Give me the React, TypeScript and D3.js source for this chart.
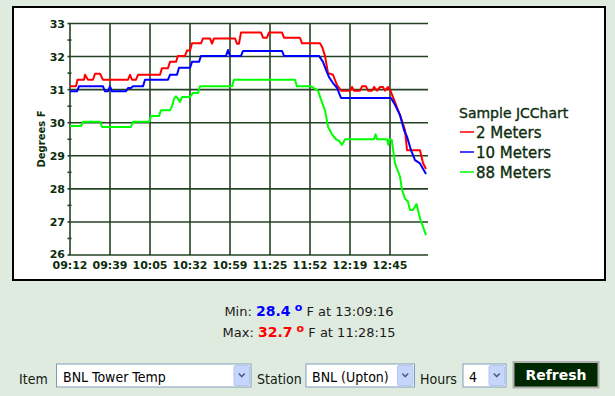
import React from "react";
import * as d3 from "d3";

// ---- data ----
const xTickLabels = ["09:12", "09:39", "10:05", "10:32", "10:59", "11:25", "11:52", "12:19", "12:45"];
const yTickValues = [26, 27, 28, 29, 30, 31, 32, 33];
const yMinorTicks = [26.5, 27.5, 28.5, 29.5, 30.5, 31.5, 32.5];
const timeDomain = ["09:12:00", "13:12:00"];
const legendTitle = "Sample JCChart";
const seriesNames = ["2 Meters", "10 Meters", "88 Meters"];
const seriesColors = ["#ff0000", "#0000ff", "#00ff00"];

const meters2: [string, number][] = [
  ["09:12:00", 31.1], ["09:16:00", 31.1], ["09:17:00", 31.3], ["09:21:20", 31.3], ["09:22:00", 31.45],
  ["09:24:00", 31.3], ["09:27:20", 31.3], ["09:28:40", 31.48], ["09:32:00", 31.48], ["09:34:00", 31.3],
  ["09:50:40", 31.3], ["09:52:00", 31.45], ["09:53:20", 31.3], ["09:56:00", 31.3], ["09:57:20", 31.45],
  ["10:12:00", 31.45], ["10:13:20", 31.65], ["10:17:20", 31.65], ["10:18:40", 31.84], ["10:22:40", 31.84],
  ["10:24:00", 32.02], ["10:28:40", 32.02], ["10:30:00", 32.18], ["10:32:00", 32.18], ["10:33:20", 32.4],
  ["10:39:20", 32.4], ["10:40:40", 32.55], ["10:45:20", 32.55], ["10:46:40", 32.39], ["10:48:00", 32.55],
  ["11:02:00", 32.55], ["11:03:20", 32.39], ["11:04:40", 32.39], ["11:06:00", 32.73], ["11:19:20", 32.73],
  ["11:20:40", 32.57], ["11:23:20", 32.57], ["11:24:40", 32.73], ["11:33:20", 32.73], ["11:34:40", 32.57],
  ["11:45:20", 32.57], ["11:46:40", 32.4], ["11:58:40", 32.4], ["12:00:00", 32.3], ["12:02:00", 32.02],
  ["12:04:00", 31.5], ["12:07:20", 31.45], ["12:10:00", 31.14], ["12:12:40", 30.97], ["12:18:40", 30.97],
  ["12:20:00", 31.08], ["12:21:20", 30.97], ["12:25:20", 30.97], ["12:26:40", 31.1], ["12:29:20", 31.1],
  ["12:30:40", 30.97], ["12:33:20", 30.97], ["12:34:40", 31.08], ["12:36:40", 30.97], ["12:38:40", 31.08],
  ["12:40:40", 31.08], ["12:42:00", 30.97], ["12:44:00", 31.08], ["12:45:20", 31.0], ["12:48:00", 30.7],
  ["12:52:00", 30.23], ["12:55:20", 29.78], ["12:56:40", 29.17], ["13:05:20", 29.17], ["13:07:20", 28.78],
  ["13:09:20", 28.6],
];

const meters10: [string, number][] = [
  ["09:12:00", 30.95], ["09:16:40", 30.95], ["09:18:00", 31.1], ["09:34:00", 31.1], ["09:35:20", 30.95],
  ["09:37:20", 30.95], ["09:38:40", 31.1], ["09:40:00", 30.95], ["09:49:20", 30.95], ["09:50:40", 31.05],
  ["09:52:40", 31.05], ["09:54:00", 31.1], ["10:00:40", 31.1], ["10:02:00", 31.3], ["10:17:20", 31.3],
  ["10:18:40", 31.45], ["10:23:20", 31.45], ["10:24:40", 31.66], ["10:32:00", 31.66], ["10:33:20", 31.84],
  ["10:38:00", 31.84], ["10:39:20", 32.02], ["10:56:00", 32.02], ["10:57:20", 32.2], ["10:58:40", 32.02],
  ["11:06:00", 32.02], ["11:07:20", 32.17], ["11:33:20", 32.17], ["11:34:40", 32.02], ["11:58:00", 32.02],
  ["12:00:40", 31.84], ["12:02:40", 31.6], ["12:04:40", 31.38], ["12:07:20", 31.2], ["12:10:00", 31.05],
  ["12:12:40", 30.75], ["12:46:00", 30.75], ["12:48:40", 30.54], ["12:52:00", 30.23], ["12:54:40", 29.78],
  ["12:56:40", 29.58], ["12:59:20", 29.17], ["13:02:00", 28.87], ["13:05:20", 28.77], ["13:09:20", 28.45],
];

const meters88: [string, number][] = [
  ["09:12:00", 29.9], ["09:19:20", 29.9], ["09:20:40", 30.03], ["09:32:00", 30.03], ["09:33:20", 29.87],
  ["09:52:40", 29.87], ["09:54:00", 30.03], ["10:04:40", 30.03], ["10:06:00", 30.2], ["10:11:20", 30.2],
  ["10:12:40", 30.38], ["10:18:40", 30.38], ["10:20:00", 30.5], ["10:21:20", 30.72], ["10:22:40", 30.8],
  ["10:24:00", 30.72], ["10:25:20", 30.63], ["10:26:40", 30.78], ["10:32:00", 30.78], ["10:34:00", 30.9],
  ["10:37:20", 30.9], ["10:38:40", 31.1], ["11:00:00", 31.1], ["11:01:20", 31.3], ["11:42:00", 31.3],
  ["11:43:20", 31.1], ["11:52:40", 31.1], ["11:57:20", 30.97], ["11:59:20", 30.7], ["12:02:00", 30.38],
  ["12:04:00", 29.88], ["12:06:40", 29.65], ["12:09:20", 29.5], ["12:11:20", 29.45], ["12:13:20", 29.33],
  ["12:15:20", 29.5], ["12:34:40", 29.5], ["12:35:40", 29.65], ["12:36:40", 29.5], ["12:43:20", 29.5],
  ["12:44:12", 29.33], ["12:45:00", 29.5], ["12:46:30", 29.48], ["12:48:40", 28.77], ["12:52:00", 28.37],
  ["12:53:20", 27.97], ["12:55:20", 27.71], ["12:57:20", 27.61], ["12:58:40", 27.36], ["13:00:40", 27.36],
  ["13:03:00", 27.54], ["13:05:20", 27.11], ["13:09:20", 26.6],
];

const allSeries = [meters2, meters10, meters88];

const minInfo = { label: "Min:", value: "28.4", time: "13:09:16" };
const maxInfo = { label: "Max:", value: "32.7", time: "11:28:15" };

const controlLabels = ["Item", "Station", "Hours"];
const controlValues = ["BNL Tower Temp", "BNL (Upton)", "4"];
const buttonLabel = "Refresh";

// ---- helpers ----
const parseT = (s: string) => {
  const [h, m, sec] = s.split(":").map(Number);
  return new Date(2000, 0, 1, h, m, sec || 0);
};

const INK = "#0d2d0d";
const GRID = "#244224";

function Select({ x, w, btnX, text, textX }: { x: number; w: number; btnX: number; text: string; textX: number }) {
  const y = 364;
  const h = 23;
  const bx = btnX;
  const bw = x + w - 1.5 - bx;
  const cx = bx + bw / 2;
  return (
    <g>
      <rect x={x} y={y} width={w} height={h} fill="#ffffff" stroke="#7f9db9" strokeWidth={1} />
      <rect x={bx} y={y + 1.5} width={bw} height={h - 3} rx={1.5} fill="#c6d5fb" stroke="#b4c6ee" strokeWidth={1} />
      <path d={`M${cx - 3},${y + 9.5} L${cx},${y + 12.5} L${cx + 3},${y + 9.5}`} fill="none" stroke="#4d6185" strokeWidth={1.6} />
      <text x={textX} y={381.5} fontFamily="'DejaVu Sans Condensed', 'DejaVu Sans'" fontSize={14} fill="#000">
        {text}
      </text>
    </g>
  );
}

export default function App() {
  const x = d3.scaleTime().domain(timeDomain.map(parseT)).range([70, 430]);
  const y = d3.scaleLinear().domain([26, 33]).range([255, 23.5]);
  const [t0, t1] = x.domain();
  const step = (t1.getTime() - t0.getTime()) / 9;
  const xTicks = xTickLabels.map((lab, i) => ({ lab, pos: x(new Date(t0.getTime() + i * step)) }));
  const gridRight = 428;

  const line = d3
    .line<[string, number]>()
    .x((d) => x(parseT(d[0])))
    .y((d) => y(d[1]));

  const legendX = 460;
  const legendY = 132;

  return (
    <svg width={615} height={396} style={{ position: "absolute", left: 0, top: 0 }}>
      <rect x={0} y={0} width={615} height={396} fill="#e0ebe0" />
      {/* chart panel */}
      <rect x={13} y={7} width={592} height={273} fill="#ffffff" stroke="#000" strokeWidth={2} />

      {/* horizontal grid */}
      {yTickValues.map((v) => (
        <line key={"h" + v} x1={70} x2={gridRight} y1={y(v)} y2={y(v)} stroke={GRID} strokeWidth={1.6} />
      ))}
      {/* vertical grid */}
      {xTicks.map((t, i) => (
        <line key={"v" + i} x1={t.pos} x2={t.pos} y1={y(33)} y2={y(26)} stroke={GRID} strokeWidth={1.6} />
      ))}
      {/* y ticks */}
      {yTickValues.map((v) => (
        <line key={"yt" + v} x1={67.5} x2={70} y1={y(v)} y2={y(v)} stroke={GRID} strokeWidth={1.6} />
      ))}
      {yMinorTicks.map((v) => (
        <line key={"ym" + v} x1={67.5} x2={71.5} y1={y(v)} y2={y(v)} stroke={GRID} strokeWidth={1.6} />
      ))}
      {/* y labels */}
      {yTickValues.map((v) => (
        <text key={"yl" + v} x={65} y={y(v) + (v === 26 ? 2.5 : 4)} textAnchor="end" fontFamily="'DejaVu Sans'" fontWeight="bold" fontSize={11} fill={INK}>
          {v}
        </text>
      ))}
      {/* x labels */}
      {xTicks.map((t, i) => (
        <text key={"xl" + i} x={t.pos} y={269} textAnchor="middle" fontFamily="'DejaVu Sans'" fontWeight="bold" fontSize={11} fill={INK}>
          {t.lab}
        </text>
      ))}
      <text
        transform={`translate(45,139) rotate(-90)`}
        textAnchor="middle"
        fontFamily="'DejaVu Sans'"
        fontWeight="bold"
        fontSize={10}
        fill={INK}
      >
        Degrees F
      </text>

      {/* series */}
      {allSeries.map((s, i) => (
        <path key={"s" + i} d={line(s) || ""} fill="none" stroke={seriesColors[i]} strokeWidth={2} strokeLinejoin="round" />
      ))}

      {/* legend */}
      <text x={459} y={118} fontFamily="'DejaVu Sans'" fontSize={14} fill={INK} stroke={INK} strokeWidth={0.35}>
        {legendTitle}
      </text>
      {seriesNames.map((n, i) => (
        <g key={"lg" + i}>
          <line x1={legendX} x2={legendX + 14} y1={legendY + i * 20} y2={legendY + i * 20} stroke={seriesColors[i]} strokeWidth={1.5} />
          <text x={legendX + 16} y={legendY + i * 20 + 6} fontFamily="'DejaVu Sans'" fontSize={15} fill={INK} stroke={INK} strokeWidth={0.35}>
            {n}
          </text>
        </g>
      ))}

      {/* min / max */}
      {[
        { info: minInfo, color: "#0000ff", yy: 316 },
        { info: maxInfo, color: "#ff0000", yy: 337 },
      ].map((r, i) => (
        <text key={"mm" + i} x={309} y={r.yy} textAnchor="middle" fontFamily="'DejaVu Sans'" fontSize={13} fill="#1a1a1a">
          <tspan>{r.info.label} </tspan>
          <tspan fontWeight="bold" fontSize={14} fill={r.color}>
            {r.info.value}
          </tspan>
          <tspan> </tspan>
          <tspan fontWeight="bold" fontSize={11} fill={r.color} dy={-5}>
            o
          </tspan>
          <tspan dy={5}> F at {r.info.time}</tspan>
        </text>
      ))}

      {/* controls */}
      <g fontFamily="'DejaVu Sans Condensed', 'DejaVu Sans'" fontSize={14} fill="#102010">
        <text x={19} y={384}>{controlLabels[0]}</text>
        <text x={257} y={384}>{controlLabels[1]}</text>
        <text x={420} y={384}>{controlLabels[2]}</text>
      </g>
      <Select x={56.5} w={194.5} btnX={234} text={controlValues[0]} textX={63} />
      <Select x={306} w={108.5} btnX={397.5} text={controlValues[1]} textX={312} />
      <Select x={463} w={43} btnX={489} text={controlValues[2]} textX={469} />
      <rect x={513.5} y={362} width={85} height={25.5} fill="#002800" stroke="#b0b0b0" strokeWidth={2} />
      <text x={556} y={380} textAnchor="middle" fontFamily="'DejaVu Sans'" fontWeight="bold" fontSize={14} fill="#ffffff">
        {buttonLabel}
      </text>
    </svg>
  );
}
